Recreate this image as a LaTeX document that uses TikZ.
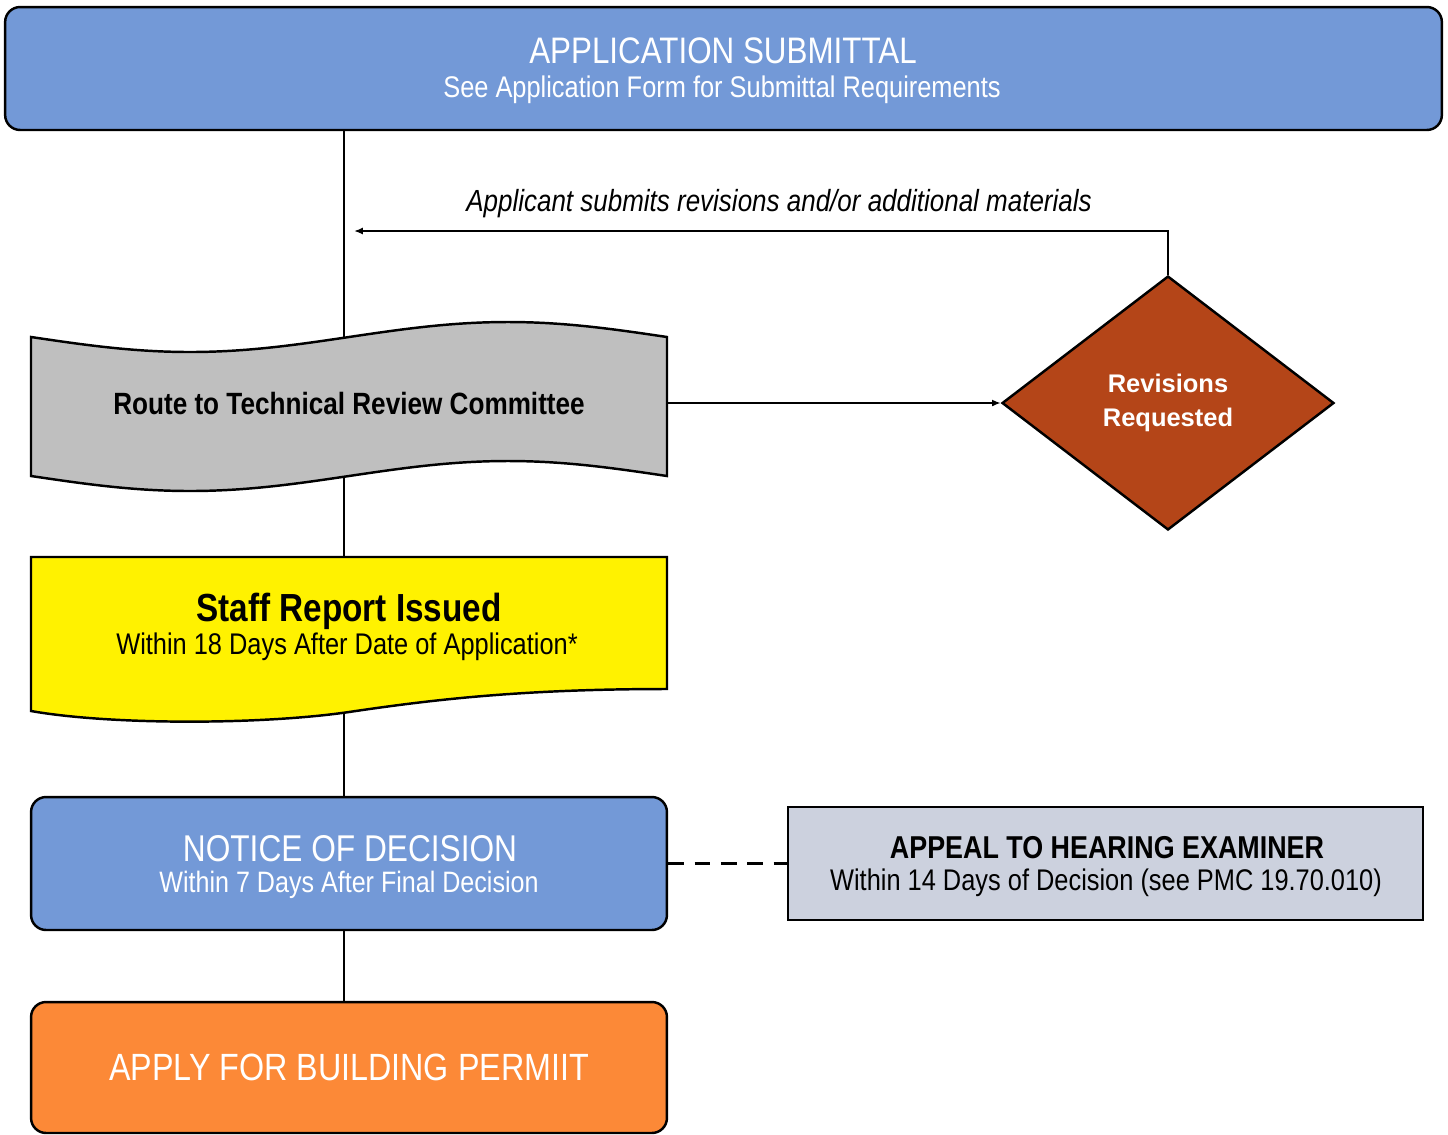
\documentclass[tikz,border=0pt]{standalone}
\usepackage{fontspec}
\setmainfont[FakeStretch=0.85]{Liberation Sans}
\newfontfamily\revfont{Liberation Sans}
\usetikzlibrary{shapes.geometric,arrows.meta}

\definecolor{submitblue}{RGB}{115,153,215}
\definecolor{tapegray}{RGB}{191,191,191}
\definecolor{reviewrust}{RGB}{180,69,24}
\definecolor{appealgray}{RGB}{204,209,222}
\definecolor{permitorange}{RGB}{252,137,55}

\begin{document}
\begin{tikzpicture}[
            x=0.02cm,y=-0.02cm,
            every node/.append style={black},
            stagebox/.style={draw,line width=1.4pt,minimum width=12.72cm,inner sep=0pt},
            caption/.style={anchor=base,inner sep=0pt},
            conn/.style={line width=1.1pt},
            flow/.style={conn,-{Latex[length=5pt,width=4pt]}}
        ]
            \useasboundingbox (0,0) rectangle (1448,1134);
            \coordinate (spine) at (344,0);

            \node[stagebox,fill=submitblue,rounded corners=0.3cm,
                minimum width=28.74cm,minimum height=2.46cm] (submit) at (723.5,68.5) {};
            \node[caption,white,font=\fontsize{21}{25}\selectfont] (submittitle) at (723,63) {APPLICATION SUBMITTAL};
            \node[caption,white,font=\fontsize{17}{20}\selectfont] (submitnote) at (722,97) {See Application Form for Submittal Requirements};

            \filldraw[fill=tapegray,line width=1.4pt]
                (31,337) sin (190,352) cos (349,337) sin (508,322) cos (667,337)
                -- (667,476) sin (508,461) cos (349,476) sin (190,491) cos (31,476)
                -- cycle;
            \coordinate (routeT) at (344,338);
            \coordinate (routeB) at (344,477);
            \node[inner sep=0pt,minimum width=12.72cm,font=\bfseries\fontsize{17.5}{21}\selectfont] (route) at (349,403) {Route to Technical Review Committee};

            \node[diamond,draw,line width=1.4pt,fill=reviewrust,inner sep=0pt,
                minimum width=6.64cm,minimum height=5.08cm,align=center,
                text=white,font=\revfont\bfseries\fontsize{14.5}{19.5}\selectfont] (rev) at (1168,403) {Revisions\\Requested};
            \coordinate (back) at (354,231);
            \node[caption,font=\itshape\fontsize{17.4}{20}\selectfont] (revnote) at (779,211) {Applicant submits revisions and/or additional materials};

            \filldraw[fill=yellow,line width=1.4pt]
                (31,557) -- (667,557) -- (667,689)
                .. controls (520,689) and (430,700) .. (349,712)
                .. controls (260,725) and (110,725) .. (31,711)
                -- cycle;
            \coordinate (staffT) at (344,557);
            \coordinate (staffB) at (344,712);
            \node[caption,font=\bfseries\fontsize{22.3}{26}\selectfont] (staff) at (349,621) {Staff Report Issued};
            \node[caption,font=\fontsize{17}{20}\selectfont] (staffnote) at (347,654) {Within 18 Days After Date of Application*};

            \node[stagebox,fill=submitblue,rounded corners=0.3cm,minimum height=2.66cm] (notice) at (349,863.5) {};
            \node[caption,white,font=\fontsize{21.2}{25}\selectfont] (noticetitle) at (350,861) {NOTICE OF DECISION};
            \node[caption,white,font=\fontsize{16.8}{20}\selectfont] (noticenote) at (349,892) {Within 7 Days After Final Decision};

            \node[stagebox,fill=appealgray,minimum width=12.7cm,minimum height=2.26cm] (appeal) at (1105.5,863.5) {};
            \node[caption,font=\bfseries\fontsize{18}{22}\selectfont] (appealtitle) at (1107,858) {APPEAL TO HEARING EXAMINER};
            \node[caption,font=\fontsize{17}{20}\selectfont] (appealnote) at (1106,890) {Within 14 Days of Decision (see PMC 19.70.010)};

            \node[stagebox,fill=permitorange,rounded corners=0.3cm,minimum height=2.62cm] (permit) at (349,1067.5) {};
            \node[caption,white,font=\fontsize{21.6}{26}\selectfont] (permittitle) at (349,1080) {APPLY FOR BUILDING PERMIIT};

            \draw[conn] (submit.south -| spine) -- (routeT);
            \draw[conn] (routeB) -- (staffT);
            \draw[conn] (staffB) -- (notice.north -| spine);
            \draw[conn] (notice.south -| spine) -- (permit.north -| spine);
            \draw[flow] (route.east) -- (rev.west);
            \draw[flow] (rev.north) |- (back);
            \draw[conn,line width=1.4pt,dash pattern=on 9pt off 6pt] (notice.east) -- (appeal.west);
        \end{tikzpicture}
\end{document}
